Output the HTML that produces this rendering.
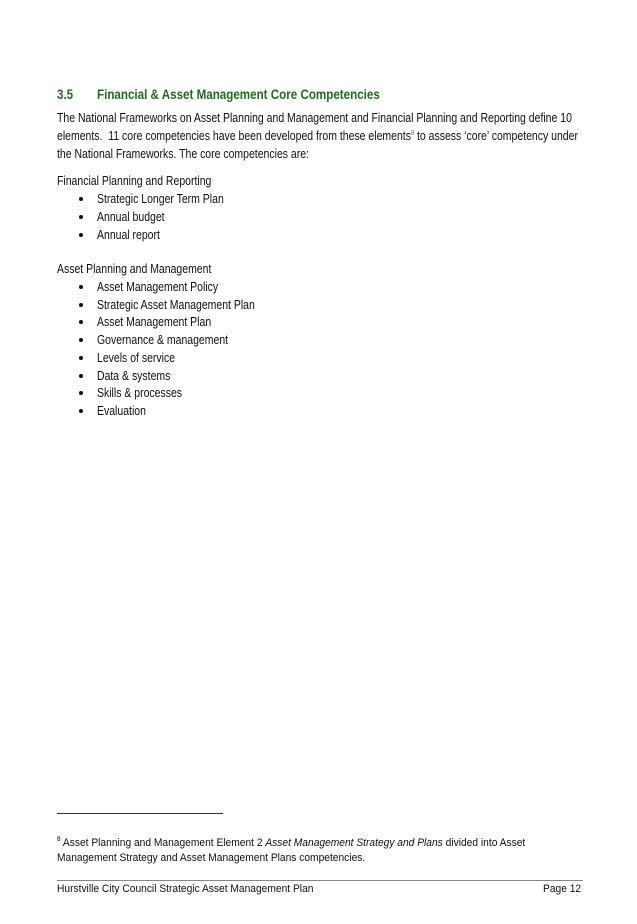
<!DOCTYPE html>
<html><head><meta charset="utf-8"><style>
body{margin:0;background:#fff;}
.p{position:relative;width:637px;height:924px;overflow:hidden;background:#fff;font-family:"Liberation Sans",Arial,sans-serif;color:#111;}
.l{position:absolute;white-space:nowrap;font-size:13px;line-height:16px;transform-origin:0 0;transform:scaleX(0.806);}
.h{color:#1f6e1f;font-weight:bold;font-size:13.5px;}
.b{position:absolute;width:4px;height:4px;border-radius:50%;background:#111;}
.f{position:absolute;white-space:nowrap;font-size:11px;line-height:14px;transform-origin:0 0;transform:scaleX(0.93);}
.s{font-size:7px;position:relative;top:-5px;line-height:0;}
</style></head><body><div class="p">
<div class="l h" style="left:57px;top:87px;transform:scaleX(0.86);">3.5</div>
<div class="l h" style="left:97px;top:87px;transform:scaleX(0.86);">Financial &amp; Asset Management Core Competencies</div>
<div class="l" style="left:57px;top:110px;">The National Frameworks on Asset Planning and Management and Financial Planning and Reporting define 10</div>
<div class="l" style="left:57px;top:128px;">elements.&nbsp; 11 core competencies have been developed from these elements<span class="s" style="color:#777">8</span> to assess ‘core’ competency under</div>
<div class="l" style="left:57px;top:146px;">the National Frameworks. The core competencies are:</div>
<div class="l" style="left:57px;top:173px;">Financial Planning and Reporting</div>
<div class="b" style="left:79px;top:197px"></div><div class="l" style="left:97px;top:191px;">Strategic Longer Term Plan</div>
<div class="b" style="left:79px;top:215px"></div><div class="l" style="left:97px;top:209px;">Annual budget</div>
<div class="b" style="left:79px;top:233px"></div><div class="l" style="left:97px;top:227px;">Annual report</div>
<div class="l" style="left:57px;top:261px;">Asset Planning and Management</div>
<div class="b" style="left:79px;top:285px"></div><div class="l" style="left:97px;top:279px;">Asset Management Policy</div>
<div class="b" style="left:79px;top:303px"></div><div class="l" style="left:97px;top:297px;">Strategic Asset Management Plan</div>
<div class="b" style="left:79px;top:320px"></div><div class="l" style="left:97px;top:314px;">Asset Management Plan</div>
<div class="b" style="left:79px;top:338px"></div><div class="l" style="left:97px;top:332px;">Governance &amp; management</div>
<div class="b" style="left:79px;top:356px"></div><div class="l" style="left:97px;top:350px;">Levels of service</div>
<div class="b" style="left:79px;top:374px"></div><div class="l" style="left:97px;top:368px;">Data &amp; systems</div>
<div class="b" style="left:79px;top:391px"></div><div class="l" style="left:97px;top:385px;">Skills &amp; processes</div>
<div class="b" style="left:79px;top:409px"></div><div class="l" style="left:97px;top:403px;">Evaluation</div>
<div style="position:absolute;left:57px;top:813px;width:166px;height:1px;background:#333"></div>
<div class="f" style="left:57px;top:836px;"><span class="s">8</span> Asset Planning and Management Element 2 <i>Asset Management Strategy and Plans</i> divided into Asset</div>
<div class="f" style="left:57px;top:851px;">Management Strategy and Asset Management Plans competencies.</div>
<div style="position:absolute;left:57px;top:880px;width:526px;height:1px;background:#888"></div>
<div class="f" style="left:57px;top:882px;">Hurstville City Council Strategic Asset Management Plan</div>
<div class="f" style="left:543px;top:882px;">Page 12</div>
</div></body></html>
